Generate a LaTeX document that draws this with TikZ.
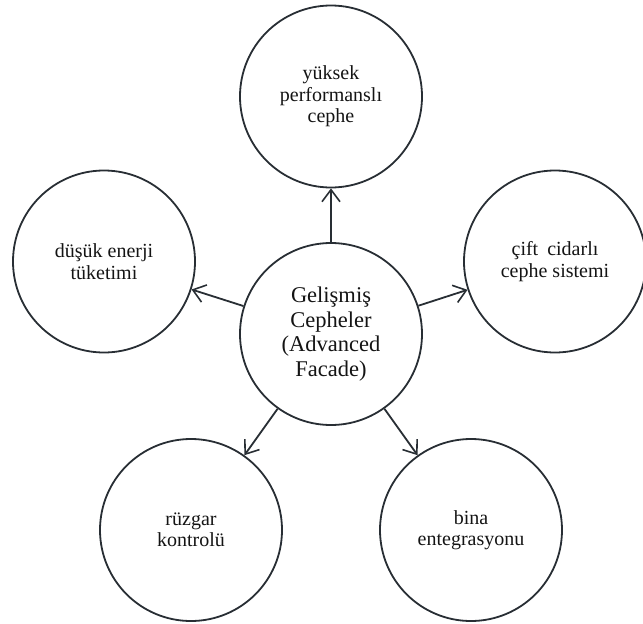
\documentclass[tikz,border=0pt]{standalone}
\usepackage{fontspec}
\setmainfont{Liberation Serif}
\usetikzlibrary{arrows.meta}
\definecolor{inkline}{RGB}{40,46,52}
\definecolor{inktext}{RGB}{20,20,20}
\begin{document}
\begin{tikzpicture}[x=1pt,y=-1pt,
  bubble/.style={circle, draw=inkline, line width=1.8pt, minimum size=182pt,
    inner sep=0pt, align=center, text=inktext,
    font=\fontsize{20}{21.5}\selectfont},
  hub/.style={bubble, font=\fontsize{22.5}{24.5}\selectfont},
  link/.style={draw=inkline, line width=1.8pt,
    -{Straight Barb[length=12pt,width=18pt,line width=1.6pt]}}]
\useasboundingbox (0,0) rectangle (643,624);

% central concept
\node[hub] (hub) at (331,334) {Gelişmiş\\Cepheler\\(Advanced\\Facade)};

% surrounding concepts
\node[bubble] (perf)  at (331,96.5) {yüksek\\performanslı\\cephe};
\node[bubble] (enrg)  at (104,261.5) {düşük enerji\\tüketimi};
\node[bubble] (dbl)   at (555,261.5) {çift\hspace{0.2em} cidarlı\\cephe sistemi};
\node[bubble] (wind)  at (191,530) {rüzgar\\kontrolü};
\node[bubble] (integ) at (471,530) {bina\\entegrasyonu};

% connectors from the centre outwards
\draw[link] (hub) -- (perf);
\draw[link] (hub) -- (enrg);
\draw[link] (hub) -- (dbl);
\draw[link] (hub) -- (wind);
\draw[link] (hub) -- (integ);
\end{tikzpicture}
\end{document}
